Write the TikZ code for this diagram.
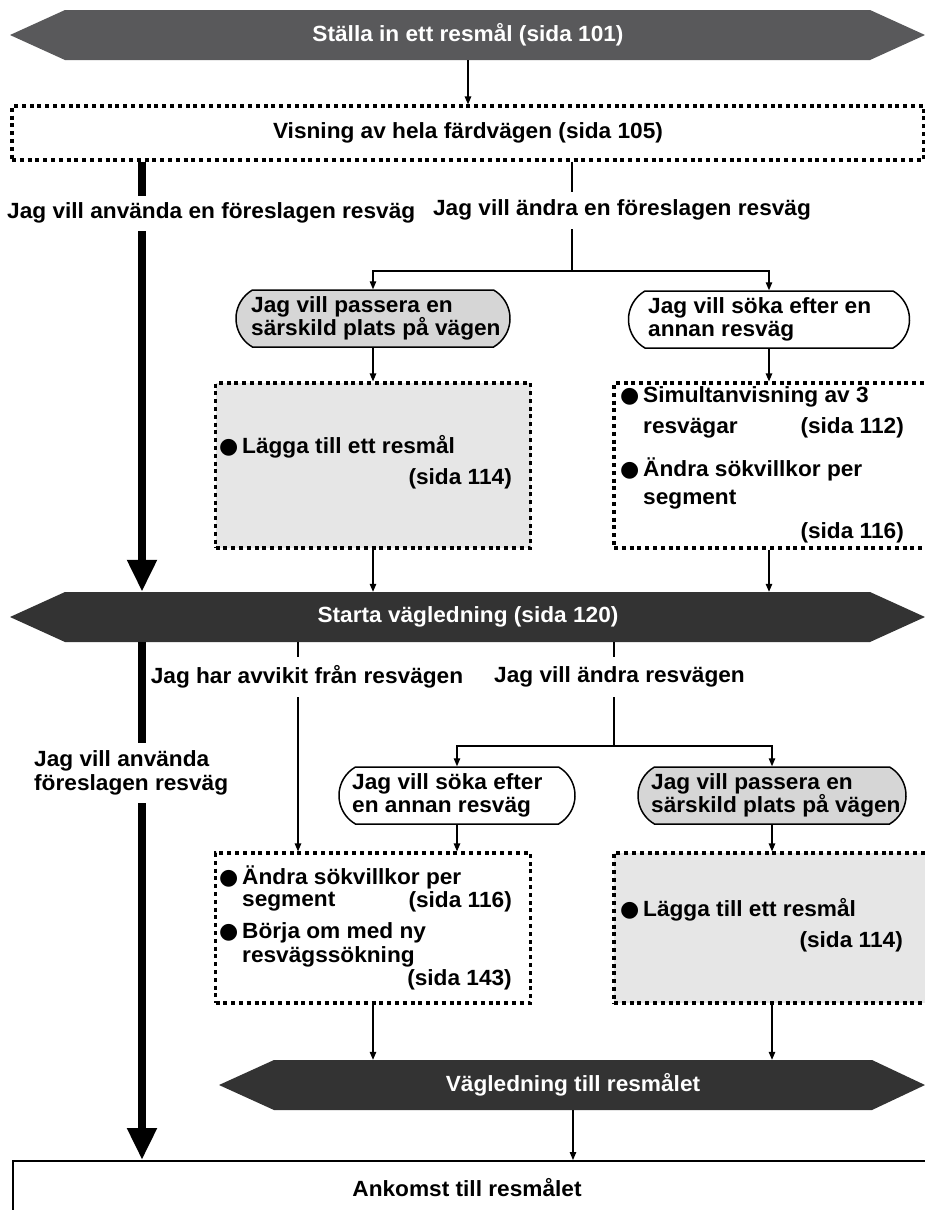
\documentclass[tikz,border=0pt]{standalone}
\usepackage{fontspec}
\setmainfont{Liberation Sans}[FakeStretch=1.03]
\newfontfamily\bulletfont{DejaVu Sans}
\usetikzlibrary{arrows.meta,shapes.misc}
\definecolor{hexgrey}{HTML}{59595B}
\definecolor{hexdark}{HTML}{333333}
\definecolor{choicegrey}{HTML}{D6D6D6}
\definecolor{panelgrey}{HTML}{E6E6E6}
\newcommand\itembullet{\makebox[23pt][l]{\bulletfont\fontsize{22}{22}\selectfont ●}}
\begin{document}
\begin{tikzpicture}[x=1pt,y=-1pt,
  every node/.style={font=\bfseries\fontsize{22}{23.5}\selectfont, inner sep=0pt},
  flow/.style={line width=1.2pt},
  arr/.style={flow,-{Triangle[length=8pt,width=6.5pt]}},
  mainarr/.style={line width=8pt,-{Triangle[length=32pt,width=28pt]}},
  hexlabel/.style={text=white,minimum height=50pt},
  panel/.style={draw,line width=3.2pt,dash pattern=on 4pt off 3.8pt},
  choice/.style={draw,line width=1.5pt,rounded rectangle,rounded rectangle arc length=120,minimum height=57pt},
  lbl/.style={fill=white,inner xsep=2pt},
  txt/.style={align=left}
]
\path[use as bounding box,clip] (0,0) rectangle (925,1210);

% ---- start ----
\fill[hexgrey] (10,35) -- (65,10) -- (870,10) -- (925,35) -- (870,60) -- (65,60) -- cycle;
\node[hexlabel,minimum width=805pt] (h1) at (468,35) {Ställa in ett resmål (sida 101)};

\node[panel,minimum width=912pt,minimum height=54pt] (vis) at (468,133) {Visning av hela färdvägen (sida 105)};
\draw[arr] (h1) -- (vis);

% ---- route choice before guidance ----
\coordinate (lane) at (142,0);
\coordinate (j1) at (572,271);

\node[choice,fill=choicegrey,minimum width=274pt] (r1) at (373,318.5) {};
\node[txt,anchor=west] (r1t) at (251,318.5) {Jag vill passera en\\särskild plats på vägen};
\node[choice,minimum width=281pt] (r2) at (769,319.5) {};
\node[txt,anchor=west] (r2t) at (648,319.5) {Jag vill söka efter en\\annan resväg};

\node[panel,fill=panelgrey,minimum width=315pt,minimum height=165pt] (d1) at (373,465.5) {};
\node[anchor=west] (d1a) at (219,447) {\itembullet Lägga till ett resmål};
\node[anchor=east] (d1b) at (512,479) {(sida 114)};

\node[panel,minimum width=326pt,minimum height=165pt] (d2) at (777,465.5) {};
\node[anchor=west] (d2a) at (620,397) {\itembullet Simultanvisning av 3};
\node[anchor=west] (d2b) at (643,428) {resvägar};
\node[anchor=east] (d2c) at (904,428) {(sida 112)};
\node[anchor=west] (d2d) at (620,469) {\itembullet Ändra sökvillkor per};
\node[anchor=west] (d2e) at (643,500) {segment};
\node[anchor=east] (d2f) at (904,533) {(sida 116)};

\fill[hexdark] (10,617) -- (65,592) -- (870,592) -- (925,617) -- (870,642) -- (65,642) -- cycle;
\node[hexlabel,minimum width=805pt] (h2) at (468,617) {Starta vägledning (sida 120)};

\draw[mainarr] (vis.south -| lane) -- (h2.north -| lane);
\node[lbl,anchor=west,minimum height=35pt] (useA) at (5,213) {Jag vill använda en föreslagen resväg};

\draw[flow] (vis.south -| j1) -- (j1);
\node[lbl,minimum height=37pt] (chA) at (622,210) {Jag vill ändra en föreslagen resväg};
\draw[arr] (j1) -| (r1.north);
\draw[arr] (j1) -| (r2.north);
\draw[arr] (r1) -- (r1 |- d1.north);
\draw[arr] (r2) -- (r2 |- d2.north);
\draw[arr] (d1.south) -- (d1.south |- h2.north);
\draw[arr] (r2 |- d2.south) -- (r2 |- h2.north);

% ---- during guidance ----
\coordinate (dev) at (298,0);
\coordinate (j2) at (614,746);

\node[choice,minimum width=236pt] (r3) at (457,795.5) {};
\node[txt,anchor=west] (r3t) at (352,795.5) {Jag vill söka efter\\en annan resväg};
\node[choice,fill=choicegrey,minimum width=268pt] (r4) at (772,795.5) {};
\node[txt,anchor=west] (r4t) at (651,795.5) {Jag vill passera en\\särskild plats på vägen};

\node[panel,minimum width=315pt,minimum height=150pt] (d3) at (373,928) {};
\node[anchor=west] (d3a) at (219,877) {\itembullet Ändra sökvillkor per};
\node[anchor=west] (d3b) at (242,902) {segment};
\node[anchor=east] (d3c) at (512,902) {(sida 116)};
\node[anchor=west] (d3d) at (219,933) {\itembullet Börja om med ny};
\node[anchor=west] (d3e) at (242,957) {resvägssökning};
\node[anchor=east] (d3f) at (512,980) {(sida 143)};

\node[panel,fill=panelgrey,minimum width=326pt,minimum height=150pt] (d4) at (777,928) {};
\node[anchor=west] (d4a) at (620,910) {\itembullet Lägga till ett resmål};
\node[anchor=east] (d4b) at (903,942) {(sida 114)};

\fill[hexdark] (219,1085) -- (274,1060) -- (872,1060) -- (925,1085) -- (872,1110) -- (274,1110) -- cycle;
\node[hexlabel,minimum width=598pt] (h3) at (573,1085) {Vägledning till resmålet};

\node[draw,line width=1.5pt,anchor=north west,minimum width=930pt,minimum height=80pt] (ank) at (12,1160) {};
\node (ankt) at (467,1188) {Ankomst till resmålet};

\draw[mainarr] (h2.south -| lane) -- (ank.north -| lane);
\node[lbl,txt,anchor=west,minimum height=60pt] (useB) at (32,773) {Jag vill använda\\föreslagen resväg};

\draw[arr] (h2.south -| dev) -- (d3.north -| dev);
\node[lbl,minimum height=40pt] (devt) at (307,677) {Jag har avvikit från resvägen};

\draw[flow] (h2.south -| j2) -- (j2);
\node[lbl,minimum height=40pt] (chB) at (619.5,677) {Jag vill ändra resvägen};
\draw[arr] (j2) -| (r3.north);
\draw[arr] (j2) -| (r4.north);
\draw[arr] (r3) -- (r3 |- d3.north);
\draw[arr] (r4) -- (r4 |- d4.north);
\draw[arr] (d3.south) -- (d3.south |- h3.north);
\draw[arr] (r4 |- d4.south) -- (r4 |- h3.north);
\draw[arr] (h3) -- (h3 |- ank.north);
\end{tikzpicture}
\end{document}
